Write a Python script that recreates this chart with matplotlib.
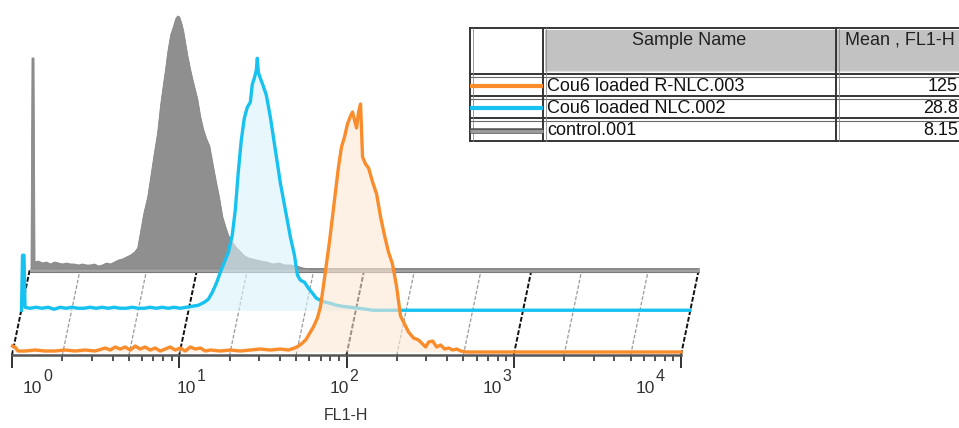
import matplotlib
matplotlib.use('Agg')
import numpy as np
import matplotlib.pyplot as plt
import matplotlib.transforms as mtransforms
from matplotlib.ticker import FixedLocator, NullFormatter

plt.rcParams['font.family'] = ['Liberation Sans', 'DejaVu Sans']

# ---------------- data ----------------
sample_names = ["Cou6 loaded R-NLC.003", "Cou6 loaded NLC.002", "control.001"]
mean_fl1h = ["125", "28.8", "8.15"]
x_label = "FL1-H"
decades = [0, 1, 2, 3, 4]

# control.001 (log10 FL1-H, counts)
gray_log = [0.003, 0.009, 0.021, 0.027, 0.048, 0.072, 0.096, 0.120, 0.144, 0.168, 0.192, 0.216,
            0.240, 0.263, 0.287, 0.311, 0.335, 0.359, 0.383, 0.407, 0.431, 0.455, 0.479, 0.503,
            0.527, 0.551, 0.575, 0.599, 0.623, 0.641, 0.659, 0.677, 0.701, 0.719, 0.737, 0.760,
            0.778, 0.796, 0.808, 0.820, 0.838, 0.856, 0.868, 0.880, 0.892, 0.904, 0.916, 0.928,
            0.940, 0.958, 0.976, 1.000, 1.018, 1.036, 1.054, 1.072, 1.096, 1.114, 1.132, 1.150,
            1.168, 1.186, 1.210, 1.234, 1.257, 1.281, 1.305, 1.329, 1.353, 1.377, 1.413, 1.449,
            1.485, 1.521, 1.557, 1.593, 1.629, 1.665, 4.0]
gray_cnt = [0, 211, 211, 7, 8, 6, 7, 5, 7, 6, 5, 6,
            5, 5, 4, 5, 4, 4, 5, 3, 4, 6, 5, 7,
            9, 10, 12, 14, 17, 21, 38, 55, 72, 92, 112, 136,
            164, 186, 200, 216, 234, 243, 250, 253, 252, 246, 238, 226,
            214, 199, 186, 170, 152, 139, 130, 123, 101, 85, 70, 52,
            42, 33, 26, 21, 17, 13, 11, 10, 9, 8, 7, 5,
            6, 4, 4, 3, 1, 0, 0]

# Cou6 loaded NLC.002
blue_log = [0.003, 0.009, 0.018, 0.024, 0.054, 0.090, 0.126, 0.162, 0.198, 0.234, 0.269, 0.305,
            0.341, 0.377, 0.413, 0.449, 0.485, 0.521, 0.557, 0.593, 0.629, 0.665, 0.701, 0.737,
            0.772, 0.808, 0.844, 0.880, 0.916, 0.952, 0.988, 1.024, 1.060, 1.096, 1.120, 1.144,
            1.168, 1.192, 1.216, 1.240, 1.263, 1.281, 1.299, 1.317, 1.335, 1.353, 1.371, 1.383,
            1.395, 1.407, 1.413, 1.419, 1.431, 1.449, 1.467, 1.491, 1.521, 1.551, 1.581, 1.611,
            1.635, 1.653, 1.671, 1.695, 1.719, 1.743, 1.766, 1.790, 1.820, 1.850, 1.886, 1.922,
            1.970, 2.018, 2.066, 2.102, 4.0]
blue_cnt = [0, 55, 55, 3, 2, 3, 2, 3, 1, 3, 2, 3,
            2, 2, 3, 2, 3, 2, 3, 2, 2, 3, 2, 2,
            3, 2, 3, 2, 3, 2, 3, 4, 5, 8, 11, 18,
            27, 38, 48, 58, 75, 100, 138, 170, 192, 203, 208, 226,
            232, 240, 252, 238, 232, 224, 215, 193, 160, 127, 100, 73,
            55, 35, 30, 28, 22, 17, 12, 10, 8, 7, 5, 4,
            3, 2, 1, 0, 0]

# Cou6 loaded R-NLC.003
orange_log = [0.003, 0.018, 0.036, 0.078, 0.138, 0.198, 0.257, 0.317, 0.377, 0.437, 0.497, 0.557,
              0.587, 0.617, 0.647, 0.677, 0.707, 0.737, 0.766, 0.796, 0.826, 0.856, 0.886, 0.916,
              0.946, 0.976, 1.006, 1.036, 1.066, 1.096, 1.126, 1.156, 1.186, 1.246, 1.305, 1.365,
              1.425, 1.485, 1.545, 1.605, 1.653, 1.689, 1.713, 1.737, 1.760, 1.784, 1.802, 1.826,
              1.844, 1.862, 1.880, 1.898, 1.916, 1.934, 1.952, 1.970, 1.988, 2.006, 2.024, 2.036,
              2.048, 2.060, 2.072, 2.084, 2.096, 2.114, 2.132, 2.156, 2.180, 2.204, 2.228, 2.251,
              2.275, 2.299, 2.323, 2.347, 2.371, 2.401, 2.431, 2.455, 2.473, 2.491, 2.515, 2.539,
              2.563, 2.587, 2.611, 2.635, 2.659, 2.683, 2.719, 4.0]
orange_cnt = [6, 5, 1, 1, 2, 1, 1, 2, 1, 2, 1, 4,
              2, 5, 3, 5, 2, 6, 3, 5, 2, 4, 1, 3,
              5, 2, 4, 1, 5, 3, 4, 1, 2, 1, 2, 1,
              2, 3, 2, 3, 2, 4, 6, 9, 13, 20, 25, 34,
              45, 66, 88, 110, 135, 160, 185, 205, 215, 228, 236, 240,
              232, 224, 240, 248, 195, 188, 184, 170, 158, 135, 116, 100,
              88, 66, 36, 28, 20, 14, 12, 8, 5, 10, 11, 5,
              7, 3, 4, 2, 3, 1, 0, 0]

# ---------------- styles ----------------
ORANGE = '#f98c2b'
BLUE = '#17c2f0'
GRAY = '#8f8f8f'
W, H = 959, 428

fig = plt.figure(figsize=(W / 100, H / 100), dpi=100)
ax = fig.add_axes([12 / W, (H - 355) / H, 669 / W, 355 / H])
ax.set_xscale('log')
ax.patch.set_alpha(0)
for s in ['top', 'right', 'left']:
    ax.spines[s].set_visible(False)
ax.spines['bottom'].set_color('#555555')
ax.spines['bottom'].set_linewidth(1.8)
ax.set_yticks([])

DX, DY = 9 / 100, 41.75 / 100


def layer_tr(k):
    return ax.transData + mtransforms.ScaledTranslation(k * DX, k * DY, fig.dpi_scale_trans)


ax.set_xlim(1, 1e4)
ax.set_ylim(-3, 352)

# grid lines (slanted, from front layer to back layer)
ident = mtransforms.IdentityTransform()
for d in decades:
    for m in [1, 2, 5]:
        v = m * 10 ** d
        if v > 1e4:
            continue
        p0 = layer_tr(0).transform((v, -3))
        p1 = layer_tr(2).transform((v, 0))
        if m == 1:
            ax.plot([p0[0], p1[0]], [p0[1], p1[1]], transform=ident, color='#111111',
                    lw=1.4, ls=(0, (2.5, 1.0)), zorder=1, clip_on=False)
        else:
            ax.plot([p0[0], p1[0]], [p0[1], p1[1]], transform=ident, color='#999999',
                    lw=0.9, ls=(0, (3, 1.5)), zorder=1, clip_on=False)

# back plane line
ax.plot([1, 1e4], [-1.5, -1.5], transform=layer_tr(2), color='#a3a3a3', lw=3.4,
        zorder=2, clip_on=False, solid_capstyle='butt')
ax.plot([1, 1e4], [-3.8, -3.8], transform=layer_tr(2), color='#7a7a7a', lw=0.8,
        zorder=2, clip_on=False)

# control (back)
gx = 10 ** np.array(gray_log)
ax.fill_between(gx, 0, gray_cnt, transform=layer_tr(2), color=GRAY, lw=0.6,
                edgecolor='#868686', zorder=3, clip_on=False)

# NLC (middle)
bx = 10 ** np.array(blue_log)
ax.fill_between(bx, 0, blue_cnt, transform=layer_tr(1), color='#d8f2fb', alpha=0.6,
                lw=0, zorder=4, clip_on=False)
ax.plot(bx, blue_cnt, transform=layer_tr(1), color=BLUE, lw=2.4, zorder=5, clip_on=False,
        solid_joinstyle='round')

# R-NLC (front)
ox = 10 ** np.array(orange_log)
ax.fill_between(ox, 0, orange_cnt, transform=layer_tr(0), color='#fde6d3', alpha=0.6,
                lw=0, zorder=6, clip_on=False)
ax.plot(ox, orange_cnt, transform=layer_tr(0), color=ORANGE, lw=2.4, zorder=7, clip_on=False,
        solid_joinstyle='round')

# ticks
ax.xaxis.set_major_locator(FixedLocator([10 ** d for d in decades]))
ax.xaxis.set_minor_locator(FixedLocator([m * 10 ** d for d in decades[:-1] for m in range(2, 10)]))
ax.xaxis.set_major_formatter(NullFormatter())
ax.xaxis.set_minor_formatter(NullFormatter())
ax.tick_params(axis='x', which='major', length=9, width=1.3, color='#222222', direction='out')
ax.tick_params(axis='x', which='minor', length=4, width=1.1, color='#222222', direction='out')

LBL = '#333333'
for i, d in enumerate(decades):
    base = mtransforms.blended_transform_factory(ax.transData, ax.transAxes)
    tr10 = base + mtransforms.ScaledTranslation((11 - 14 * i) / 100, -38 / 100,
                                                fig.dpi_scale_trans)
    trexp = base + mtransforms.ScaledTranslation((11 - 14 * i + 20) / 100, -26 / 100,
                                                 fig.dpi_scale_trans)
    ax.text(10 ** d, 0, '10', transform=tr10, ha='left', va='baseline',
            fontsize=12.5, color=LBL)
    ax.text(10 ** d, 0, str(d), transform=trexp, ha='left', va='baseline',
            fontsize=11.5, color=LBL)

ax.text(0.5, 0, x_label, transform=ax.transAxes + mtransforms.ScaledTranslation(
    -1 / 100, -60 / 100, fig.dpi_scale_trans), ha='center', va='center', fontsize=11.5,
    color=LBL)

# ---------------- table ----------------
tax = fig.add_axes([0, 0, 1, 1])
tax.set_xlim(0, W)
tax.set_ylim(H, 0)
tax.axis('off')
tax.patch.set_alpha(0)

cx = [470, 543, 836, 990]
ry = [28, 74, 96, 118, 141]
line_c = '#353535'
# header fill
tax.fill_between([cx[1] + 2, cx[3]], ry[0] + 2, ry[1] - 2, color='#c2c2c2', lw=0, zorder=1)
tax.plot([cx[1] + 2, cx[3]], [ry[1] - 3, ry[1] - 3], color='#e0e0e0', lw=1.0, zorder=2)
for yy in ry:
    tax.plot([cx[0], cx[3]], [yy, yy], color=line_c, lw=1.4, zorder=3)
for yy in ry[1:4]:
    tax.plot([cx[0], cx[3]], [yy + 2.5, yy + 2.5], color='#6a6a6a', lw=0.8, zorder=3)
for xx in cx[:3]:
    tax.plot([xx, xx], [ry[0], ry[-1]], color=line_c, lw=1.4, zorder=3)
    tax.plot([xx + 2.5, xx + 2.5], [ry[0], ry[-1]], color='#8a8a8a', lw=0.6, zorder=3)

tax.text((cx[1] + cx[2]) / 2, 40, "Sample Name", ha='center', va='center', fontsize=13,
         color='#222222', zorder=4)
tax.text(900, 40, "Mean , FL1-H", ha='center', va='center', fontsize=13, color='#222222',
         zorder=4)

colors = [ORANGE, BLUE, '#9a9a9a']
for i, (nm, val, c) in enumerate(zip(sample_names, mean_fl1h, colors)):
    yc = (ry[i + 1] + ry[i + 2]) / 2 + 1
    if i == 2:
        tax.plot([cx[0], cx[1]], [yc, yc], color='#555555', lw=4.0, zorder=4,
                 solid_capstyle='butt')
        tax.plot([cx[0], cx[1]], [yc, yc], color=c, lw=2.2, zorder=5, solid_capstyle='butt')
    else:
        tax.plot([cx[0], cx[1]], [yc, yc], color=c, lw=3.0, zorder=5, solid_capstyle='butt')
    tax.text(cx[1] + 4, yc, nm, ha='left', va='center', fontsize=13, color='#111111', zorder=6)
    tax.text(958, yc, val, ha='right', va='center', fontsize=13, color='#111111', zorder=6)

fig.savefig('out.png', dpi=100)
